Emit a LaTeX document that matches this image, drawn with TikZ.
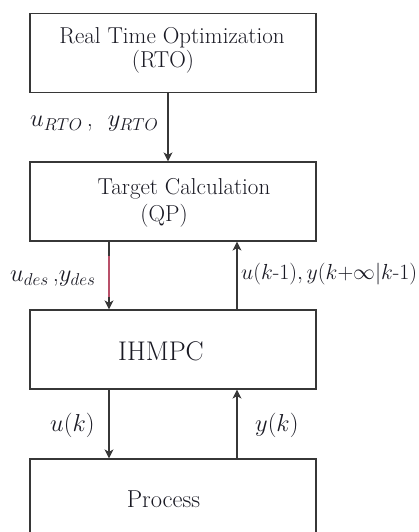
\RequirePackage{fix-cm}
\documentclass[tikz,border=0pt]{standalone}
\usepackage{amsmath}
\usetikzlibrary{arrows.meta,calc}
\definecolor{linegray}{RGB}{55,55,55}
\definecolor{textdark}{RGB}{25,25,35}
\definecolor{sigred}{RGB}{185,80,105}
\begin{document}
\begin{tikzpicture}[x=1pt,y=1pt,
  blockbox/.style={draw=linegray, line width=1.2pt, minimum width=286pt, minimum height=79pt, inner sep=0pt},
  boxtext/.style={font=\fontsize{23}{27}\selectfont, text=textdark, inner sep=0pt, anchor=base},
  sig/.style={draw=linegray, line width=1.2pt, -{Stealth[length=9pt,width=9pt,inset=2.5pt]}},
  siglabel/.style={font=\fontsize{24.5}{28}\selectfont, text=textdark, inner sep=0pt, anchor=base west}]
\useasboundingbox (0,0) rectangle (418,532);
\clip (0,0) rectangle (418,532);

% blocks
\node[blockbox] (rto) at (173,479) {};
\node[blockbox] (qp) at (173,330.5) {};
\node[blockbox] (mpc) at (173,182.5) {};
\node[blockbox, minimum height=90pt] (proc) at (173,28) {};

% block captions
\node[boxtext] (t1a) at (172,488) {Real Time Optimization};
\node[boxtext] (t1b) at (163,464) {(RTO)};
\node[boxtext] (t2a) at (184,337) {Target Calculation};
\node[boxtext] (t2b) at (164,310) {(QP)};
\node[boxtext, font=\fontsize{27}{30}\selectfont] (t3) at (161,171) {IHMPC};
\node[boxtext, font=\fontsize{24.5}{28}\selectfont] (t4) at (163.5,24) {Process};

% signal columns
\coordinate (xm) at (168,0);
\coordinate (xl) at (109,0);
\coordinate (xr) at (237,0);

% signals
\draw[sig] (rto.south -| xm) -- (qp.north -| xm);
\draw[sig] (qp.south -| xl) -- (mpc.north -| xl);
\draw[sigred, line width=1.2pt] ($(qp.south -| xl)+(0,-14)$) -- ($(mpc.north -| xl)+(0,12)$);
\draw[sig] (mpc.north -| xr) -- (qp.south -| xr);
\draw[sig] (mpc.south -| xl) -- (proc.north -| xl);
\draw[sig] (proc.north -| xr) -- (mpc.south -| xr);

% signal labels
\node[siglabel] (l1) at (30,405) {$u_{RTO}$\,,\ \ $y_{RTO}$};
\node[siglabel] (l2) at (10,250) {$u_{des}$\,,$y_{des}$};
\node[siglabel, font=\fontsize{21.8}{26}\selectfont] (l3) at (241,252) {$u(k\text{-}1),y(k{+}\infty|k\text{-}1)$};
\node[siglabel] (l4) at (50,100) {$u(k)$};
\node[siglabel] (l5) at (255,100) {$y(k)$};
\end{tikzpicture}
\end{document}
